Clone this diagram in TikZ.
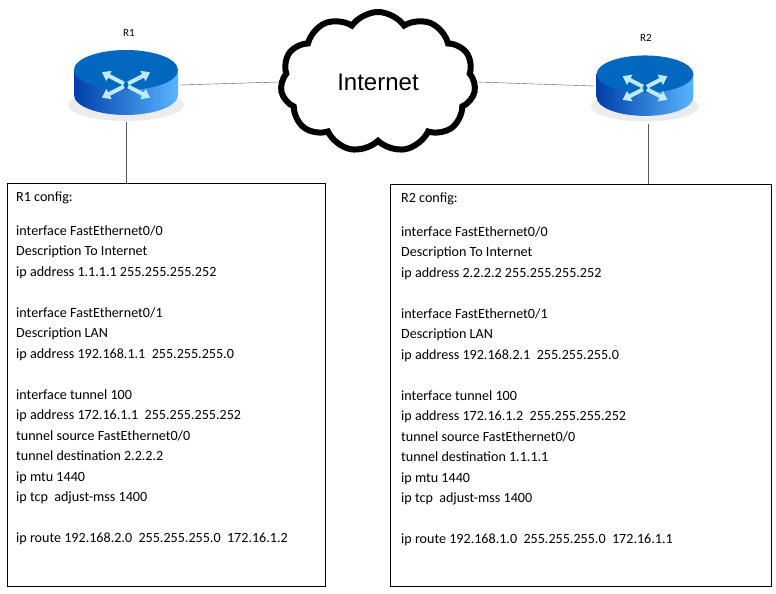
\documentclass[tikz,border=0pt]{standalone}
\usepackage{fontspec}
\setmainfont{Carlito}
\newfontfamily\arialfont{Liberation Sans}
\usetikzlibrary{shapes.symbols,arrows.meta}
\tikzset{
  router/.pic={
    \fill[gray!15] (0,20) ellipse[x radius=58,y radius=16];
    \shade[left color=blue!55!black!75!cyan, right color=cyan!55!blue!65] (-52,-15) -- (-52,10) arc[start angle=180,end angle=0,x radius=52,y radius=20] -- (52,-15) -- cycle;
    \fill[blue!45!cyan!75!black] (0,-15) ellipse[x radius=52,y radius=20];
    \foreach \a in {45,135,225,315}
      \draw[white!75!cyan,line width=4pt,-{Triangle[width=11pt,length=8pt]}] (\a:3 and 2) -- (\a:34 and 18);
  },
  cfgtext/.style={anchor=north west,align=left,font=\fontsize{14.1pt}{20.5pt}\selectfont,inner sep=0pt}
}
\begin{document}
\begin{tikzpicture}[x=1pt,y=-1pt]
\useasboundingbox (0,0) rectangle (776,594);
% routers
\pic at (126,85) {router};
\pic[scale=0.93] at (645,88) {router};
\node[font=\fontsize{11pt}{13pt}\selectfont] (r1lbl) at (129,33) {R1};
\node[font=\fontsize{11pt}{13pt}\selectfont] (r2lbl) at (646,38) {R2};
\coordinate (r1) at (126,122);
\coordinate (r1e) at (180,85);
\coordinate (r2) at (648,124);
\coordinate (r2w) at (594,86);
% cloud
\path[line width=6pt] node[cloud,cloud puffs=11,cloud puff arc=110,aspect=1.35,draw,line width=6pt,minimum width=195,minimum height=140,font=\fontsize{24pt}{28pt}\arialfont] (inet) at (378,82) {Internet};
% boxes
\draw[thin] (7,183) rectangle (325,586);
\draw[thin] (390,184) rectangle (771,586);
\coordinate (b1) at (126,183);
\coordinate (b2) at (648,184);
\draw[gray!70!black] (r1e) -- (inet.west);
\draw[gray!70!black] (inet.east) -- (r2w);
\draw[gray!70!black] (r1) -- (b1);
\draw[gray!70!black] (r2) -- (b2);
% configs
\foreach \n/\x/\y/\a/\b/\c/\d in {1/16/192/1.1.1.1/192.168.1.1/172.16.1.1/2.2.2.2, 2/401/193/2.2.2.2/192.168.2.1/172.16.1.2/1.1.1.1} {
  \node[cfgtext] (cfg\n) at (\x,\y) {R\n{} config:\\[13pt]
    interface FastEthernet0/0\\ Description To Internet\\ ip address \a{} 255.255.255.252\\[20.5pt]
    interface FastEthernet0/1\\ Description LAN\\ ip address \b\ \ 255.255.255.0\\[20.5pt]
    interface tunnel 100\\ ip address \c\ \ 255.255.255.252\\ tunnel source FastEthernet0/0\\
    tunnel destination \d\\ ip mtu 1440\\ ip tcp\ \ adjust-mss 1400\\[20.5pt]
    ip route \ifnum\n=1 192.168.2.0\else 192.168.1.0\fi\ \ 255.255.255.0\ \ \ifnum\n=1 172.16.1.2\else 172.16.1.1\fi};
}
\end{tikzpicture}
\end{document}
